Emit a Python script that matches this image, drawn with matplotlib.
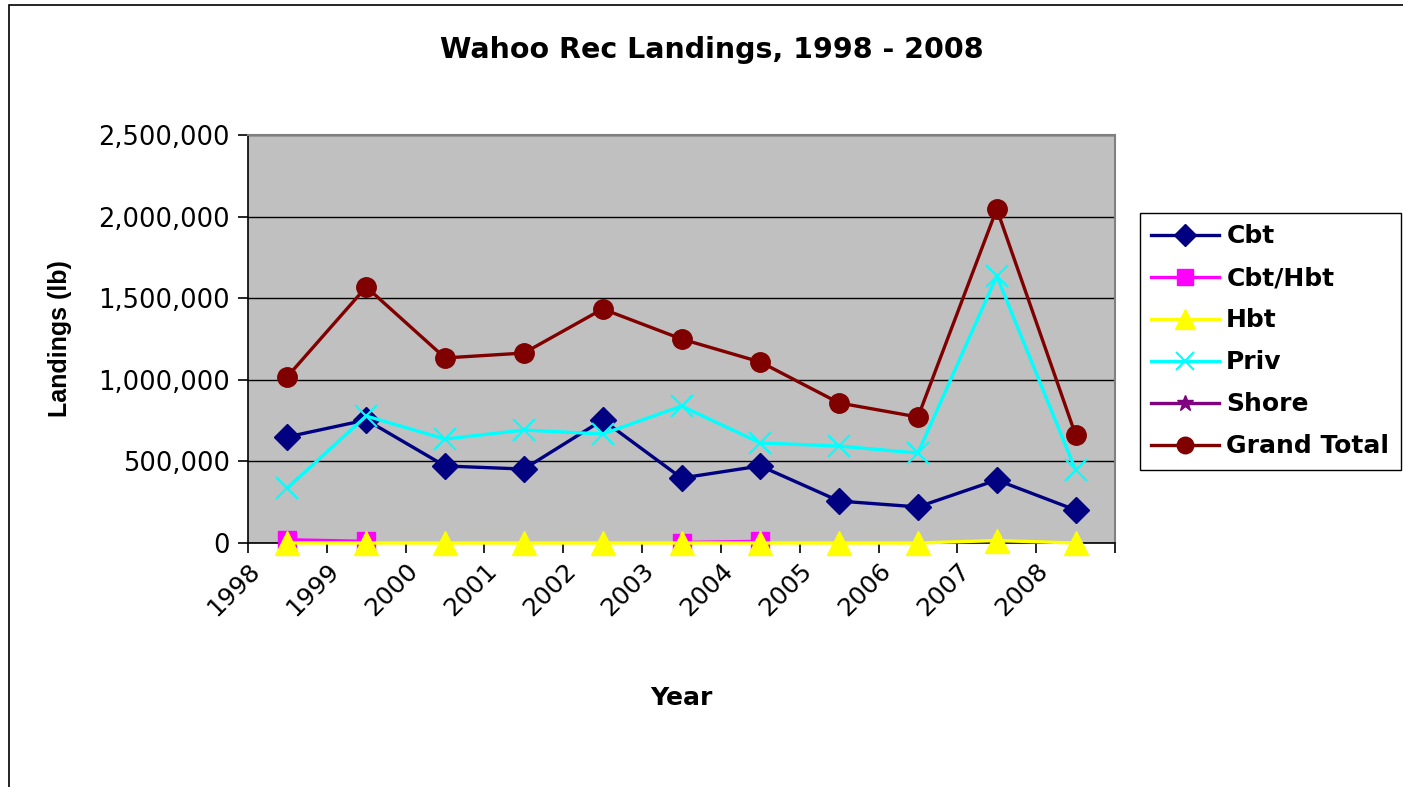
import numpy as np
import matplotlib
matplotlib.use("Agg")
import matplotlib.pyplot as plt
from matplotlib.patches import Rectangle

# dados
anos = ['1998', '1999', '2000', '2001', '2002', '2003', '2004', '2005', '2006', '2007', '2008']
cbt = [650000, 754000, 472000, 453000, 754000, 398000, 472000, 257000, 221000, 386000, 202000]
cbt_hbt = [20000, 10000, np.nan, np.nan, np.nan, 3000, 10000, np.nan, np.nan, np.nan, np.nan]
hbt = [0, 0, 0, 0, 0, 0, 0, 0, 0, 15000, 0]
priv = [337000, 778000, 637000, 692000, 668000, 839000, 613000, 594000, 551000, 1636000, 447000]
shore = [np.nan] * 11
grand_total = [1020000, 1569000, 1134000, 1164000, 1434000, 1250000, 1109000, 858000, 772000, 2047000, 662000]

yticks = [0, 500000, 1000000, 1500000, 2000000, 2500000]

fig = plt.figure(figsize=(14.03, 7.87), dpi=100)
ax = fig.add_axes([248 / 1403, 1 - 543 / 787, 867 / 1403, 408 / 787])
ax.set_facecolor('#C0C0C0')

x = np.arange(len(anos))
lw = 2.4
ax.plot(x, cbt, color='#000080', lw=lw, marker='D', ms=13, label='Cbt', zorder=3, clip_on=False)
ax.plot(x, cbt_hbt, color='#FF00FF', lw=lw, marker='s', ms=13, label='Cbt/Hbt', zorder=3, clip_on=False)
ax.plot(x, hbt, color='#FFFF00', lw=lw, marker='^', ms=17, label='Hbt', zorder=3, clip_on=False)
ax.plot(x, priv, color='#00FFFF', lw=lw, marker='x', ms=16, mew=1.5, label='Priv', zorder=3, clip_on=False)
ax.plot(x, shore, color='#800080', lw=lw, marker='*', ms=14, label='Shore', zorder=3, clip_on=False)
ax.plot(x, grand_total, color='#800000', lw=lw, marker='o', ms=14, label='Grand Total', zorder=3, clip_on=False)

ax.set_xlim(-0.5, len(anos) - 0.5)
ax.set_ylim(0, 2500000)
ax.set_yticks(yticks)
ax.set_yticklabels(['{:,}'.format(v) for v in yticks], fontsize=18.5)
ax.yaxis.grid(True, color='black', lw=1)
ax.set_axisbelow(True)
ax.tick_params(axis='y', length=7, width=1.2, direction='out', pad=6)

# marcas entre as categorias, rotulos nas marcas
ax.set_xticks(x - 0.5)
ax.set_xticklabels(anos, fontsize=18, rotation=45, ha='right', va='top', rotation_mode='anchor')
ax.set_xticks([len(anos) - 0.5], minor=True)
ax.tick_params(axis='x', which='both', length=7, width=1.2, direction='out', pad=4)

for s in ['top', 'right']:
    ax.spines[s].set_color('#808080')
    ax.spines[s].set_linewidth(1.5)
ax.spines['left'].set_color('black')
ax.spines['bottom'].set_color('black')
ax.spines['left'].set_linewidth(1.2)
ax.spines['bottom'].set_linewidth(1.2)

ax.set_xlabel('Year', fontsize=18, fontweight='bold')
ax.xaxis.set_label_coords(0.5, -0.35)
ax.set_ylabel('Landings (lb)', fontsize=18, fontweight='bold', family='Liberation Sans')
ax.yaxis.set_label_coords(-0.203, 0.5)

fig.text(712 / 1403, 1 - 50 / 787, 'Wahoo Rec Landings, 1998 - 2008', fontsize=20.5,
         fontweight='bold', ha='center', va='center')

leg = ax.legend(loc='upper left', bbox_to_anchor=(1140 / 1403, 1 - 213 / 787),
                bbox_transform=fig.transFigure, prop={'size': 18, 'weight': 'bold'},
                frameon=True, fancybox=False, edgecolor='black', framealpha=1,
                handlelength=2.7, handletextpad=0.3, labelspacing=0.72,
                borderpad=0.45, borderaxespad=0, markerscale=0.85)
leg.get_frame().set_linewidth(1.0)

# moldura do grafico
fig.patches.append(Rectangle((9 / 1403, -0.1), 1.2, 1.1 - 5 / 787, transform=fig.transFigure,
                             fill=False, edgecolor='black', lw=1.2))

fig.savefig('out.png', dpi=100, facecolor='w')
